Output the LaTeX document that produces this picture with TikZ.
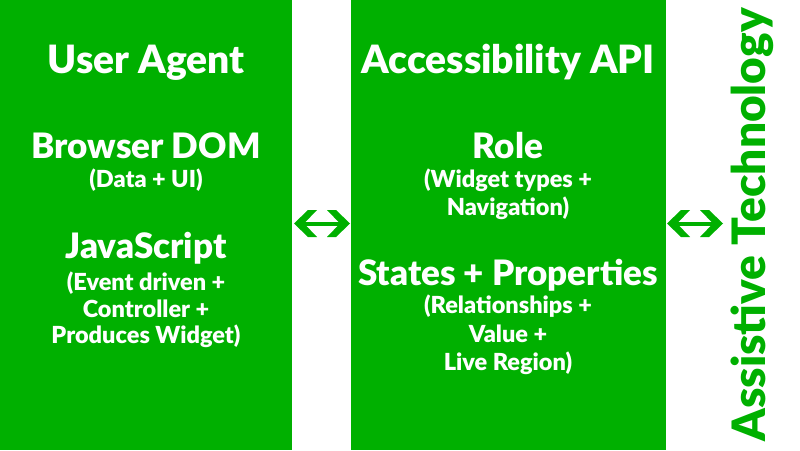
\documentclass[tikz,border=0pt]{standalone}
\usepackage{fontspec}
\setmainfont{Lato}[BoldFont={Lato Black}]
\definecolor{agreen}{RGB}{0,176,0}
\begin{document}
\begin{tikzpicture}[x=1pt,y=-1pt,
  panel/.style={fill=agreen, inner sep=0, outer sep=0, minimum width=#1, minimum height=450pt, anchor=north west},
  title/.style={text=white, font=\bfseries\fontsize{39}{44}\selectfont, anchor=base, inner sep=0},
  heading/.style={text=white, font=\bfseries\fontsize{35}{40}\selectfont, anchor=base, inner sep=0},
  sub/.style={text=white, font=\bfseries\fontsize{23.5}{27.5}\selectfont, anchor=base, inner sep=0},
  link/.style={draw=agreen, line width=4pt},
  chevron/.pic={\fill[agreen] (0,0) -- (14,-13.5) -- (23,-13.5) -- (10,0) -- (23,13.5) -- (14,13.5) -- cycle;}]
\useasboundingbox (0,0) rectangle (800,450);

% panels
\node[panel=292pt] (ua) at (0,0) {};
\node[panel=315pt] (api) at (351,0) {};

% user agent panel
\node[title] (uat) at (146,73) {User Agent};
\node[heading] (dom) at (146,158) {Browser DOM};
\node[sub] (domsub) at (146,187) {(Data + UI)};
\node[heading] (js) at (146,258) {JavaScript};
\node[sub] (jssub1) at (146,290) {(Event driven +};
\node[sub] (jssub2) at (146,317) {Controller +};
\node[sub] (jssub3) at (146,343) {Produces Widget)};

% accessibility API panel
\node[title] (apit) at (508,73) {Accessibility API};
\node[heading] (role) at (508,158) {Role};
\node[sub] (rolesub1) at (508,187) {(Widget types +};
\node[sub] (rolesub2) at (508,215) {Navigation)};
\node[heading] (sp) at (508,285) {States + Properties};
\node[sub] (spsub1) at (508,313) {(Relationships +};
\node[sub] (spsub2) at (508,342) {Value +};
\node[sub] (spsub3) at (508,370) {Live Region)};

% assistive technology label
\node[font=\bfseries\fontsize{46}{52}\selectfont, text=agreen, rotate=90, anchor=base, inner sep=0] (at) at (765,225) {Assistive Technology};

% two-way connectors
\coordinate (p1) at ([yshift=1.5pt,xshift=2pt]ua.east);
\coordinate (p2) at ([yshift=1.5pt,xshift=-1pt]api.west);
\coordinate (p3) at ([yshift=1.5pt,xshift=1pt]api.east);
\coordinate (p4) at (723,223.5);
\draw[link] ([xshift=6pt]p1) -- ([xshift=-6pt]p2);
\pic at (p1) {chevron};
\pic[xscale=-1] at (p2) {chevron};
\draw[link] ([xshift=6pt]p3) -- ([xshift=-6pt]p4);
\pic at (p3) {chevron};
\pic[xscale=-1] at (p4) {chevron};
\end{tikzpicture}
\end{document}
